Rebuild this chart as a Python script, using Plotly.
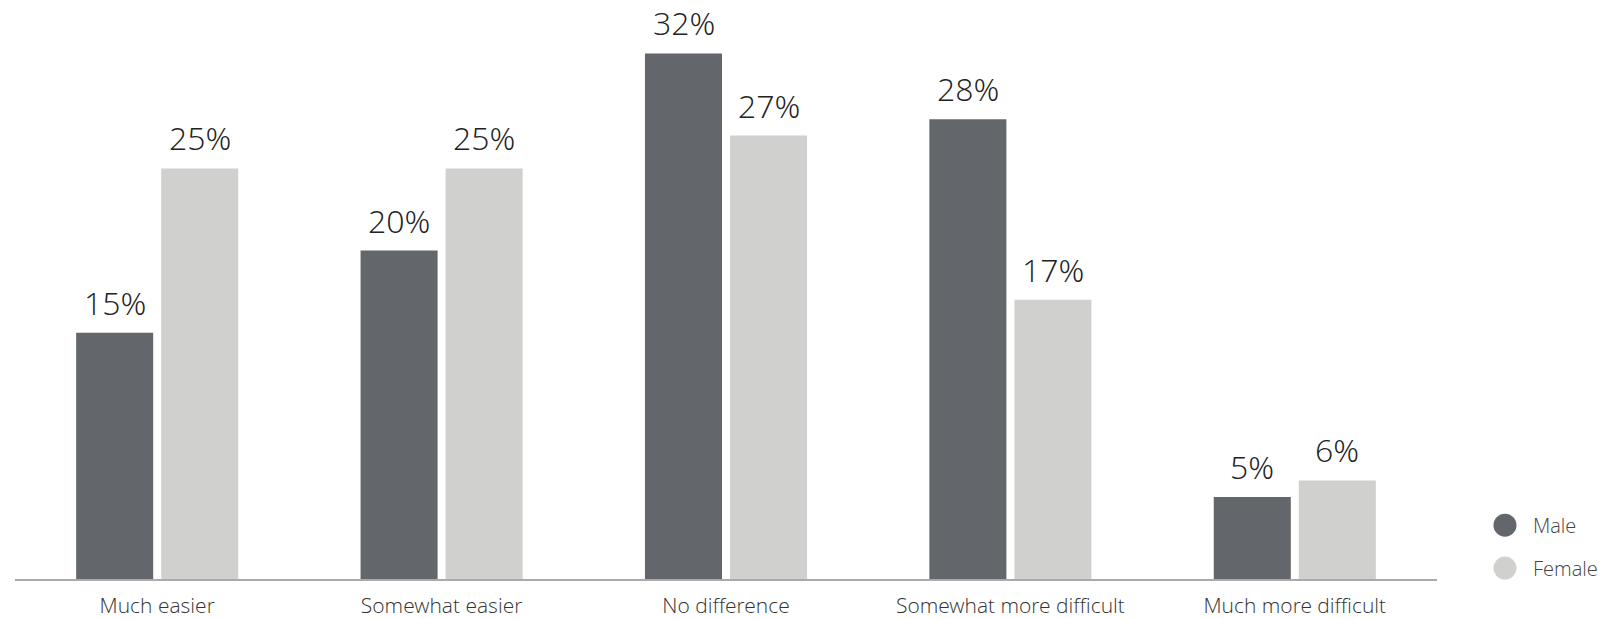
import plotly.graph_objects as go

categories = ["Much easier", "Somewhat easier", "No difference", "Somewhat more difficult", "Much more difficult"]
male = [15, 20, 32, 28, 5]
female = [25, 25, 27, 17, 6]
series_names = ["Male", "Female"]
colors = ["#63666a", "#d0d0ce"]

FONT = "Open Sans Light, Open Sans"

fig = go.Figure()
offsets = [-42.5, 42.5]
for name, vals, col, off in zip(series_names, [male, female], colors, offsets):
    fig.add_trace(go.Bar(
        x=categories, y=vals, name=name, marker=dict(color=col, line=dict(width=0)),
        showlegend=False, cliponaxis=False,
    ))
    for c, v in zip(categories, vals):
        fig.add_annotation(
            x=c, y=v, xref="x", yref="y", text=f"{v}%", showarrow=False,
            xanchor="center", yanchor="bottom", xshift=off, yshift=7,
            font=dict(family=FONT, size=32, color="#222222", weight=300),
        )

# legend (circle swatches)
leg_y = [0.0942, 0.0192]
for name, col, yy in zip(series_names, colors, leg_y):
    fig.add_shape(type="circle", xref="paper", yref="paper",
                  xsizemode="pixel", ysizemode="pixel",
                  xanchor=1.0478, yanchor=yy, x0=-11.5, x1=11.5, y0=-11.5, y1=11.5,
                  fillcolor=col, line=dict(width=0))
    fig.add_annotation(x=1.0661, y=yy, xref="paper", yref="paper", text=name,
                       showarrow=False, xanchor="left", yanchor="middle",
                       font=dict(family=FONT, size=20, color="#444444", weight=300))

fig.update_layout(
    width=1603, height=611,
    margin=dict(l=7, r=174, t=0, b=38),
    paper_bgcolor="white", plot_bgcolor="white",
    barmode="group", bargap=0.402, bargroupgap=0.094,
    font=dict(family=FONT, color="#333333"),
    showlegend=False,
    xaxis=dict(showline=True, linecolor="#aaaaaa", linewidth=1.5, ticks="",
               tickfont=dict(family=FONT, size=21, color="#333333", weight=300),
               ticklabelstandoff=7,
               showgrid=False, zeroline=False),
    yaxis=dict(range=[0, 34.77], visible=False, showgrid=False, zeroline=False),
)

fig.write_html("out.html")
